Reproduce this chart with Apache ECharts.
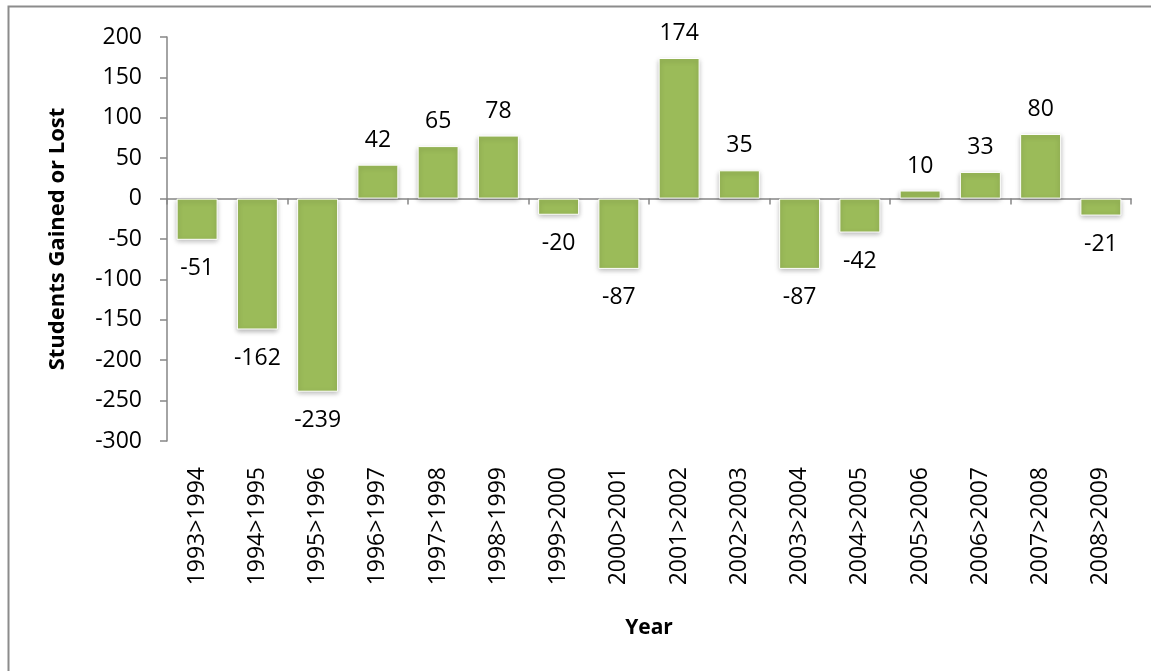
<!DOCTYPE html>
<html>
<head>
<meta charset="utf-8">
<script src="https://cdn.jsdelivr.net/npm/echarts@6/dist/echarts.min.js"></script>
<style>
  html, body { margin: 0; padding: 0; background: #fff; }
  #chart { width: 1151px; height: 671px; }
</style>
</head>
<body>
<div id="chart"></div>
<script>
// 年度区间
const years = [
  '1993>1994', '1994>1995', '1995>1996', '1996>1997', '1997>1998', '1998>1999',
  '1999>2000', '2000>2001', '2001>2002', '2002>2003', '2003>2004', '2004>2005',
  '2005>2006', '2006>2007', '2007>2008', '2008>2009'
]
// 学生增减
const changes = [-51, -162, -239, 42, 65, 78, -20, -87, 174, 35, -87, -42, 10, 33, 80, -21]

const font = '"Open Sans", sans-serif'
const axisGray = '#868686'

const chart = echarts.init(document.getElementById('chart'))

chart.setOption({
  animation: false,
  graphic: [
    {
      type: 'rect',
      shape: { x: 8.5, y: 6.5, width: 1200, height: 800 },
      style: { fill: 'none', stroke: '#8c8c8c', lineWidth: 2 },
      silent: true
    }
  ],
  grid: { left: 167, right: 20, top: 37, bottom: 230 },
  xAxis: [
    {
      type: 'category',
      data: years,
      axisLine: { onZero: true, lineStyle: { color: axisGray, width: 1.5 } },
      axisTick: { show: true, length: 6, lineStyle: { color: axisGray, width: 1.5 } },
      axisLabel: { show: false }
    },
    {
      type: 'category',
      data: years,
      position: 'bottom',
      axisLine: { show: false },
      axisTick: { show: false },
      axisLabel: {
        rotate: 90,
        margin: 26,
        color: '#000',
        fontFamily: font,
        fontSize: 23,
        interval: 0
      },
      name: 'Year',
      nameLocation: 'middle',
      nameGap: 177,
      nameTextStyle: { fontFamily: font, fontSize: 21, fontWeight: 'bold', color: '#000' }
    }
  ],
  yAxis: {
    type: 'value',
    min: -300,
    max: 200,
    interval: 50,
    splitLine: { show: false },
    axisLine: { show: true, lineStyle: { color: axisGray, width: 1.5 } },
    axisTick: { show: true, length: 7, lineStyle: { color: axisGray, width: 1.5 } },
    axisLabel: { color: '#000', fontFamily: font, fontSize: 23, margin: 25 },
    name: 'Students Gained or Lost',
    nameLocation: 'middle',
    nameGap: 98,
    nameTextStyle: { fontFamily: font, fontSize: 22, fontWeight: 'bold', color: '#000' }
  },
  series: [
    {
      type: 'bar',
      xAxisIndex: 0,
      barCategoryGap: '32%',
      data: changes.map(v => ({
        value: v,
        label: { position: v >= 0 ? 'top' : 'bottom', distance: v >= 0 ? 13 : 17 }
      })),
      itemStyle: {
        color: '#9BBB59',
        borderColor: '#ffffff',
        borderWidth: 1,
        shadowColor: 'rgba(0,0,0,0.3)',
        shadowBlur: 5,
        shadowOffsetY: 2
      },
      label: {
        show: true,
        color: '#000',
        fontFamily: font,
        fontSize: 23
      }
    }
  ]
})
</script>
</body>
</html>
